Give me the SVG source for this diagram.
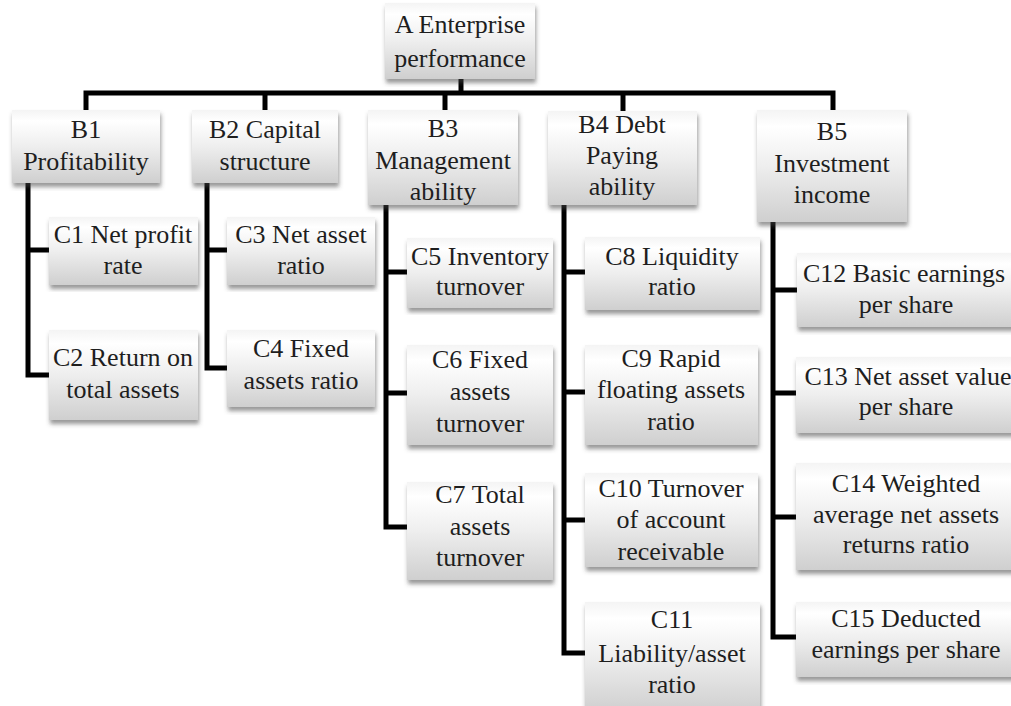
<svg xmlns="http://www.w3.org/2000/svg" width="1011" height="706" viewBox="0 0 1011 706">
<defs>
<linearGradient id="g" x1="0" y1="0" x2="0" y2="1">
<stop offset="0" stop-color="#f4f4f4"/>
<stop offset="0.15" stop-color="#ffffff"/>
<stop offset="0.5" stop-color="#eeeeee"/>
<stop offset="1" stop-color="#cfcfcf"/>
</linearGradient>
<filter id="sh"><feDropShadow dx="1" dy="4" stdDeviation="2" flood-color="#444" flood-opacity="0.55"/></filter>
</defs>
<rect width="1011" height="706" fill="#fff"/>
<g id="connectors" fill="none" stroke="#000" stroke-width="5">
<path d="M461 78 V93"/>
<path d="M86 110 V93 H833 V110"/>
<path d="M265 93 V110"/>
<path d="M445 93 V110"/>
<path d="M623 93 V111"/>
<path d="M28 183 V375 H49 M28 250 H49"/>
<path d="M207 183 V368 H227 M207 250 H227"/>
<path d="M386 205 V527 H407 M386 272 H407 M386 393 H407"/>
<path d="M564 205 V653 H585 M564 272 H585 M564 392 H585 M564 520 H585"/>
<path d="M773 222 V637 H796 M773 290 H797 M773 393 H796 M773 517 H796"/>
</g>
<g id="A"><rect x="385" y="3" width="150" height="76" fill="url(#g)" filter="url(#sh)"/><text x="460" y="33" font-family="Liberation Serif" font-size="26" text-anchor="middle" fill="#1e1e1e">A Enterprise</text><text x="460" y="67" font-family="Liberation Serif" font-size="26" text-anchor="middle" fill="#1e1e1e">performance</text></g>
<g id="B1"><rect x="12" y="110" width="148" height="73" fill="url(#g)" filter="url(#sh)"/><text x="86" y="138" font-family="Liberation Serif" font-size="26" text-anchor="middle" fill="#1e1e1e">B1</text><text x="86" y="170" font-family="Liberation Serif" font-size="26" text-anchor="middle" fill="#1e1e1e">Profitability</text></g>
<g id="B2"><rect x="192" y="110" width="146" height="73" fill="url(#g)" filter="url(#sh)"/><text x="265" y="138" font-family="Liberation Serif" font-size="26" text-anchor="middle" fill="#1e1e1e">B2 Capital</text><text x="265" y="170" font-family="Liberation Serif" font-size="26" text-anchor="middle" fill="#1e1e1e">structure</text></g>
<g id="B3"><rect x="368" y="110" width="150" height="95" fill="url(#g)" filter="url(#sh)"/><text x="443" y="137" font-family="Liberation Serif" font-size="26" text-anchor="middle" fill="#1e1e1e">B3</text><text x="443" y="169" font-family="Liberation Serif" font-size="26" text-anchor="middle" fill="#1e1e1e">Management</text><text x="443" y="200" font-family="Liberation Serif" font-size="26" text-anchor="middle" fill="#1e1e1e">ability</text></g>
<g id="B4"><rect x="548" y="111" width="149" height="94" fill="url(#g)" filter="url(#sh)"/><text x="622" y="133" font-family="Liberation Serif" font-size="26" text-anchor="middle" fill="#1e1e1e">B4 Debt</text><text x="622" y="164" font-family="Liberation Serif" font-size="26" text-anchor="middle" fill="#1e1e1e">Paying</text><text x="622" y="195" font-family="Liberation Serif" font-size="26" text-anchor="middle" fill="#1e1e1e">ability</text></g>
<g id="B5"><rect x="757" y="110" width="150" height="112" fill="url(#g)" filter="url(#sh)"/><text x="832" y="140" font-family="Liberation Serif" font-size="26" text-anchor="middle" fill="#1e1e1e">B5</text><text x="832" y="172" font-family="Liberation Serif" font-size="26" text-anchor="middle" fill="#1e1e1e">Investment</text><text x="832" y="203" font-family="Liberation Serif" font-size="26" text-anchor="middle" fill="#1e1e1e">income</text></g>
<g id="C1"><rect x="49" y="217" width="149" height="68" fill="url(#g)" filter="url(#sh)"/><text x="123" y="243" font-family="Liberation Serif" font-size="26" text-anchor="middle" fill="#1e1e1e">C1 Net profit</text><text x="123" y="274" font-family="Liberation Serif" font-size="26" text-anchor="middle" fill="#1e1e1e">rate</text></g>
<g id="C2"><rect x="49" y="330" width="149" height="90" fill="url(#g)" filter="url(#sh)"/><text x="123" y="366" font-family="Liberation Serif" font-size="26" text-anchor="middle" fill="#1e1e1e">C2 Return on</text><text x="123" y="398" font-family="Liberation Serif" font-size="26" text-anchor="middle" fill="#1e1e1e">total assets</text></g>
<g id="C3"><rect x="227" y="217" width="148" height="68" fill="url(#g)" filter="url(#sh)"/><text x="301" y="243" font-family="Liberation Serif" font-size="26" text-anchor="middle" fill="#1e1e1e">C3 Net asset</text><text x="301" y="274" font-family="Liberation Serif" font-size="26" text-anchor="middle" fill="#1e1e1e">ratio</text></g>
<g id="C4"><rect x="227" y="330" width="148" height="77" fill="url(#g)" filter="url(#sh)"/><text x="301" y="357" font-family="Liberation Serif" font-size="26" text-anchor="middle" fill="#1e1e1e">C4 Fixed</text><text x="301" y="389" font-family="Liberation Serif" font-size="26" text-anchor="middle" fill="#1e1e1e">assets ratio</text></g>
<g id="C5"><rect x="407" y="238" width="146" height="70" fill="url(#g)" filter="url(#sh)"/><text x="480" y="265" font-family="Liberation Serif" font-size="26" text-anchor="middle" fill="#1e1e1e">C5 Inventory</text><text x="480" y="295" font-family="Liberation Serif" font-size="26" text-anchor="middle" fill="#1e1e1e">turnover</text></g>
<g id="C6"><rect x="407" y="345" width="146" height="100" fill="url(#g)" filter="url(#sh)"/><text x="480" y="368" font-family="Liberation Serif" font-size="26" text-anchor="middle" fill="#1e1e1e">C6 Fixed</text><text x="480" y="400" font-family="Liberation Serif" font-size="26" text-anchor="middle" fill="#1e1e1e">assets</text><text x="480" y="432" font-family="Liberation Serif" font-size="26" text-anchor="middle" fill="#1e1e1e">turnover</text></g>
<g id="C7"><rect x="407" y="482" width="146" height="98" fill="url(#g)" filter="url(#sh)"/><text x="480" y="503" font-family="Liberation Serif" font-size="26" text-anchor="middle" fill="#1e1e1e">C7 Total</text><text x="480" y="535" font-family="Liberation Serif" font-size="26" text-anchor="middle" fill="#1e1e1e">assets</text><text x="480" y="566" font-family="Liberation Serif" font-size="26" text-anchor="middle" fill="#1e1e1e">turnover</text></g>
<g id="C8"><rect x="585" y="237" width="175" height="73" fill="url(#g)" filter="url(#sh)"/><text x="672" y="265" font-family="Liberation Serif" font-size="26" text-anchor="middle" fill="#1e1e1e">C8 Liquidity</text><text x="672" y="295" font-family="Liberation Serif" font-size="26" text-anchor="middle" fill="#1e1e1e">ratio</text></g>
<g id="C9"><rect x="585" y="345" width="173" height="100" fill="url(#g)" filter="url(#sh)"/><text x="671" y="367" font-family="Liberation Serif" font-size="26" text-anchor="middle" fill="#1e1e1e">C9 Rapid</text><text x="671" y="398" font-family="Liberation Serif" font-size="26" text-anchor="middle" fill="#1e1e1e">floating assets</text><text x="671" y="430" font-family="Liberation Serif" font-size="26" text-anchor="middle" fill="#1e1e1e">ratio</text></g>
<g id="C10"><rect x="585" y="473" width="173" height="94" fill="url(#g)" filter="url(#sh)"/><text x="671" y="497" font-family="Liberation Serif" font-size="26" text-anchor="middle" fill="#1e1e1e">C10 Turnover</text><text x="671" y="528" font-family="Liberation Serif" font-size="26" text-anchor="middle" fill="#1e1e1e">of account</text><text x="671" y="560" font-family="Liberation Serif" font-size="26" text-anchor="middle" fill="#1e1e1e">receivable</text></g>
<g id="C11"><rect x="585" y="602" width="175" height="110" fill="url(#g)" filter="url(#sh)"/><text x="672" y="628" font-family="Liberation Serif" font-size="26" text-anchor="middle" fill="#1e1e1e">C11</text><text x="672" y="662" font-family="Liberation Serif" font-size="26" text-anchor="middle" fill="#1e1e1e">Liability/asset</text><text x="672" y="693" font-family="Liberation Serif" font-size="26" text-anchor="middle" fill="#1e1e1e">ratio</text></g>
<g id="C12"><rect x="797" y="253" width="220" height="74" fill="url(#g)" filter="url(#sh)"/><text x="904" y="282" font-family="Liberation Serif" font-size="26" text-anchor="middle" fill="#1e1e1e">C12 Basic earnings</text><text x="906" y="313" font-family="Liberation Serif" font-size="26" text-anchor="middle" fill="#1e1e1e">per share</text></g>
<g id="C13"><rect x="796" y="357" width="220" height="76" fill="url(#g)" filter="url(#sh)"/><text x="908" y="385" font-family="Liberation Serif" font-size="26" text-anchor="middle" fill="#1e1e1e">C13 Net asset value</text><text x="906" y="415" font-family="Liberation Serif" font-size="26" text-anchor="middle" fill="#1e1e1e">per share</text></g>
<g id="C14"><rect x="796" y="463" width="220" height="107" fill="url(#g)" filter="url(#sh)"/><text x="906" y="492" font-family="Liberation Serif" font-size="26" text-anchor="middle" fill="#1e1e1e">C14 Weighted</text><text x="906" y="523" font-family="Liberation Serif" font-size="26" text-anchor="middle" fill="#1e1e1e">average net assets</text><text x="906" y="553" font-family="Liberation Serif" font-size="26" text-anchor="middle" fill="#1e1e1e">returns ratio</text></g>
<g id="C15"><rect x="796" y="602" width="220" height="75" fill="url(#g)" filter="url(#sh)"/><text x="906" y="627" font-family="Liberation Serif" font-size="26" text-anchor="middle" fill="#1e1e1e">C15 Deducted</text><text x="906" y="658" font-family="Liberation Serif" font-size="26" text-anchor="middle" fill="#1e1e1e">earnings per share</text></g>
</svg>
